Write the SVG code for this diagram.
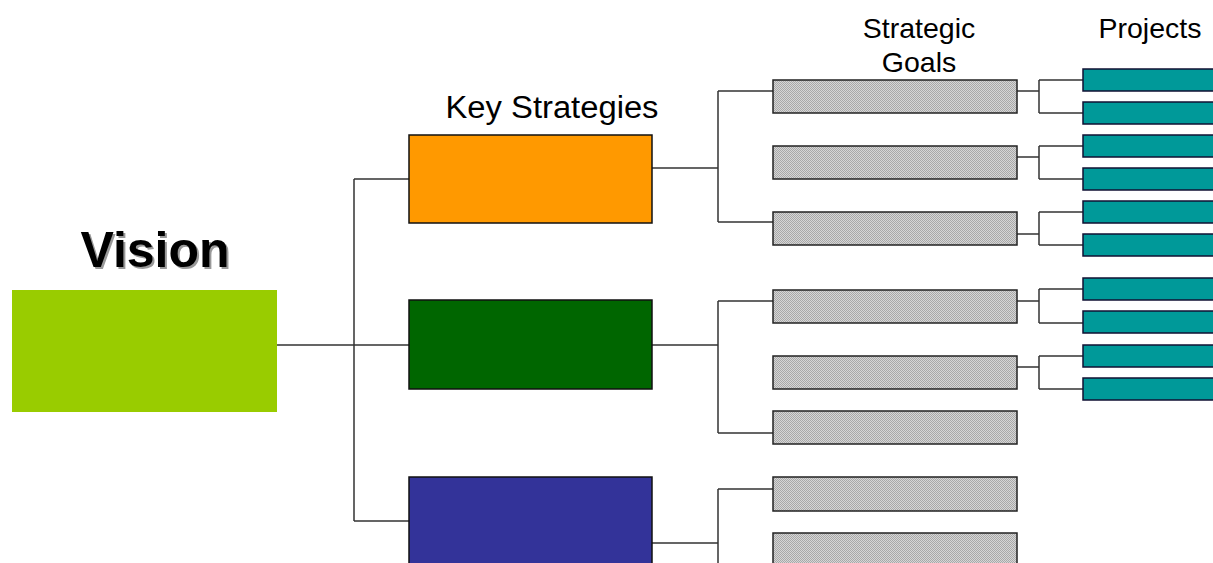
<svg xmlns="http://www.w3.org/2000/svg" width="1213" height="563" viewBox="0 0 1213 563">
  <defs>
    <!-- fine dotted grey fill used by the goal boxes -->
    <pattern id="dots" width="2" height="2" patternUnits="userSpaceOnUse">
      <rect width="2" height="2" fill="#d6d6d6"/>
      <rect width="1" height="1" fill="#a8a8a8"/>
      <rect x="1" y="1" width="1" height="1" fill="#a8a8a8"/>
    </pattern>
    <filter id="soft" x="-5%" y="-5%" width="110%" height="120%">
      <feGaussianBlur stdDeviation="0.6"/>
    </filter>
  </defs>
  <style>
    .lbl { font-family: "Liberation Sans", Arial, sans-serif; fill: #000; }
    .conn { fill: none; stroke: #333; stroke-width: 1.5; }
    .strat { stroke: #111; stroke-width: 1.5; }
    .goal { fill: url(#dots); stroke: #222; stroke-width: 1.5; }
    .proj { fill: #009999; stroke: #113; stroke-width: 1.5; }
  </style>
  <rect width="1213" height="563" fill="#fff"/>

  <!-- column headings -->
  <g id="headings">
    <text class="lbl" x="552" y="118" font-size="31" text-anchor="middle" textLength="213" lengthAdjust="spacingAndGlyphs">Key Strategies</text>
    <text class="lbl" x="919" y="38" font-size="28.5" text-anchor="middle">Strategic</text>
    <text class="lbl" x="919" y="72" font-size="28.5" text-anchor="middle">Goals</text>
    <text class="lbl" x="1150" y="38" font-size="28.5" text-anchor="middle">Projects</text>
  </g>

  <!-- connectors -->
  <g id="connectors" class="conn">
    <!-- vision to strategies -->
    <path d="M277 345 H409 M354 179 V521 M354 179 H409 M354 521 H409"/>
    <!-- orange strategy to goals -->
    <path d="M652 168 H718 M718 91 V222 M718 91 H773 M718 222 H773"/>
    <!-- green strategy to goals -->
    <path d="M652 345 H718 M718 301 V433 M718 301 H773 M718 433 H773"/>
    <!-- blue strategy to goals -->
    <path d="M652 543 H718 M718 489 V563 M718 489 H773"/>
    <!-- goals to projects -->
    <path d="M1017 91 H1039 M1039 80 V113 M1039 80 H1083 M1039 113 H1083"/>
    <path d="M1017 157 H1039 M1039 146 V179 M1039 146 H1083 M1039 179 H1083"/>
    <path d="M1017 234 H1039 M1039 212 V245 M1039 212 H1083 M1039 245 H1083"/>
    <path d="M1017 301 H1039 M1039 289 V323 M1039 289 H1083 M1039 323 H1083"/>
    <path d="M1017 367 H1039 M1039 356 V389 M1039 356 H1083 M1039 389 H1083"/>
  </g>

  <!-- vision -->
  <g id="vision">
    <text x="157" y="269" font-size="50" font-weight="bold" text-anchor="middle" font-family="Liberation Sans, Arial, sans-serif" fill="#999" filter="url(#soft)">Vision</text>
    <text class="lbl" x="155" y="267" font-size="50" font-weight="bold" text-anchor="middle">Vision</text>
    <rect x="12" y="290" width="265" height="122" fill="#99cc00"/>
  </g>

  <!-- key strategies -->
  <g id="strategy-orange"><rect class="strat" x="409" y="135" width="243" height="88" fill="#ff9900"/></g>
  <g id="strategy-green"><rect class="strat" x="409" y="300" width="243" height="89" fill="#006600"/></g>
  <g id="strategy-blue"><rect class="strat" x="409" y="477" width="243" height="100" fill="#333399"/></g>

  <!-- strategic goals -->
  <g id="goal-1"><rect class="goal" x="773" y="80" width="244" height="33"/></g>
  <g id="goal-2"><rect class="goal" x="773" y="146" width="244" height="33"/></g>
  <g id="goal-3"><rect class="goal" x="773" y="212" width="244" height="33"/></g>
  <g id="goal-4"><rect class="goal" x="773" y="290" width="244" height="33"/></g>
  <g id="goal-5"><rect class="goal" x="773" y="356" width="244" height="33"/></g>
  <g id="goal-6"><rect class="goal" x="773" y="411" width="244" height="33"/></g>
  <g id="goal-7"><rect class="goal" x="773" y="477" width="244" height="34"/></g>
  <g id="goal-8"><rect class="goal" x="773" y="533" width="244" height="40"/></g>

  <!-- projects -->
  <g id="project-1"><rect class="proj" x="1083" y="69" width="140" height="22"/></g>
  <g id="project-2"><rect class="proj" x="1083" y="102" width="140" height="22"/></g>
  <g id="project-3"><rect class="proj" x="1083" y="135" width="140" height="22"/></g>
  <g id="project-4"><rect class="proj" x="1083" y="168" width="140" height="22"/></g>
  <g id="project-5"><rect class="proj" x="1083" y="201" width="140" height="22"/></g>
  <g id="project-6"><rect class="proj" x="1083" y="234" width="140" height="22"/></g>
  <g id="project-7"><rect class="proj" x="1083" y="278" width="140" height="22"/></g>
  <g id="project-8"><rect class="proj" x="1083" y="311" width="140" height="22"/></g>
  <g id="project-9"><rect class="proj" x="1083" y="345" width="140" height="22"/></g>
  <g id="project-10"><rect class="proj" x="1083" y="378" width="140" height="22"/></g>
</svg>
